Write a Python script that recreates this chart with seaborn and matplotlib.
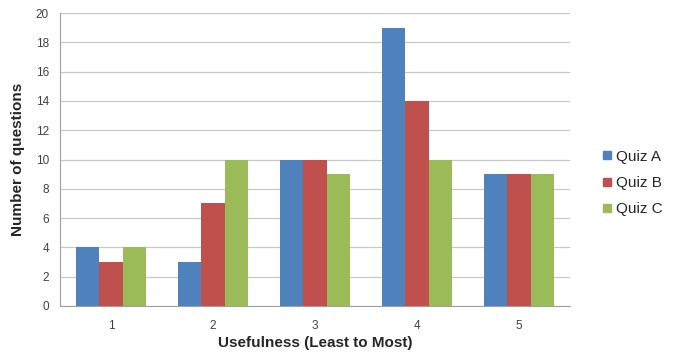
import matplotlib
matplotlib.use("Agg")
import matplotlib.pyplot as plt
import seaborn as sns
import pandas as pd
from matplotlib.ticker import FixedLocator
from matplotlib.lines import Line2D

categories = ["1", "2", "3", "4", "5"]
quiz_a = [4, 3, 10, 19, 9]
quiz_b = [3, 7, 10, 14, 9]
quiz_c = [4, 10, 9, 10, 9]
series_names = ["Quiz A", "Quiz B", "Quiz C"]
colors = ["#4F81BD", "#C0504D", "#9BBB59"]

rows = []
for name, vals in zip(series_names, [quiz_a, quiz_b, quiz_c]):
    for c, v in zip(categories, vals):
        rows.append({"Usefulness": c, "Count": v, "Quiz": name})
df = pd.DataFrame(rows)

sns.set_style("white")
plt.rcParams["font.family"] = ["Liberation Sans", "DejaVu Sans"]

fig = plt.figure(figsize=(6.83, 3.55), dpi=100)
ax = fig.add_axes([60/683, 1-306/355, 510/683, 293/355])

sns.barplot(data=df, x="Usefulness", y="Count", hue="Quiz", order=categories,
            hue_order=series_names, palette=colors, width=0.68, gap=0,
            saturation=1, ax=ax, legend=False, linewidth=0, zorder=3)

ax.set_ylim(0, 20)
ax.set_yticks(range(0, 21, 2))
ax.set_xlim(-0.5, 4.5)
ax.grid(axis="y", color="#C8C8C8", linewidth=0.9, zorder=0)
ax.set_axisbelow(True)
for s in ["top", "right"]:
    ax.spines[s].set_visible(False)
ax.spines["left"].set_color("#A0A0A0")
ax.spines["bottom"].set_color("#A0A0A0")
ax.tick_params(axis="y", which="major", length=4, color="#A0A0A0",
               labelsize=8.5, labelcolor="#404040", pad=4)
ax.tick_params(axis="x", which="major", length=0, labelsize=8.5,
               labelcolor="#404040", pad=10)
ax.xaxis.set_minor_locator(FixedLocator([-0.5, 0.5, 1.5, 2.5, 3.5, 4.5]))
ax.tick_params(axis="x", which="minor", length=4, color="#A0A0A0")

ax.set_xlabel("Usefulness (Least to Most)", fontsize=11, fontweight="bold",
              labelpad=3)
ax.set_ylabel("Number of questions", fontsize=11, fontweight="bold",
              labelpad=8)

handles = [Line2D([0], [0], marker="s", linestyle="none", markersize=5.5,
                  markerfacecolor=c, markeredgecolor=c) for c in colors]
fig.legend(handles, series_names, loc="center left",
           bbox_to_anchor=(595/683, 1-183/355), frameon=False,
           fontsize=11, handlelength=0.6, handletextpad=0.25,
           labelspacing=0.8, borderpad=0)

fig.savefig("out.png", dpi=100)
